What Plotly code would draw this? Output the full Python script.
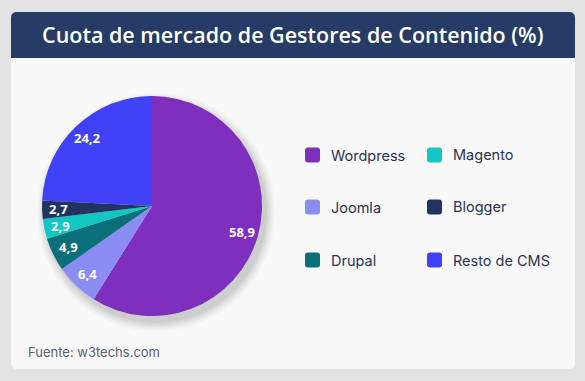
import math
import plotly.graph_objects as go

categories = ["Wordpress", "Joomla", "Drupal", "Magento", "Blogger", "Resto de CMS"]
values = [58.9, 6.4, 4.9, 2.9, 2.7, 24.2]
colors = ["#7E2FBE", "#8C8DF3", "#0B6F7A", "#12C6C3", "#213460", "#4141F7"]
title_text = "Cuota de mercado de Gestores de Contenido (%)"
source_text = "Fuente: w3techs.com"

W, H = 585, 381
labels_txt = [f"{v:.1f}".replace(".", ",") for v in values]

# pie geometry (pixels)
PCX, PCY, PR = 152, 206, 110

def px(x):
    return x / W

def py(y):
    return 1 - y / H

def rounded_path(x0, y0, x1, y1, rt, rb):
    # pixel coords (y down) -> paper path with rounded corners
    pts = []
    def P(x, y):
        return f"{px(x):.5f},{py(y):.5f}"
    p = f"M {P(x0 + rt, y0)} L {P(x1 - rt, y0)} Q {P(x1, y0)} {P(x1, y0 + rt)} "
    p += f"L {P(x1, y1 - rb)} Q {P(x1, y1)} {P(x1 - rb, y1)} "
    p += f"L {P(x0 + rb, y1)} Q {P(x0, y1)} {P(x0, y1 - rb)} "
    p += f"L {P(x0, y0 + rt)} Q {P(x0, y0)} {P(x0 + rt, y0)} Z"
    return p

fig = go.Figure()
fig.add_trace(go.Pie(
    labels=categories, values=values,
    textinfo="none",
    sort=False, direction="clockwise", rotation=0,
    marker=dict(colors=colors, line=dict(width=0)),
    domain=dict(x=[px(PCX - PR), px(PCX + PR)], y=[py(PCY + PR), py(PCY - PR)]),
    showlegend=False, hoverinfo="label+value",
))

shapes = []
# card
shapes.append(dict(type="path", xref="paper", yref="paper", path=rounded_path(11, 12, 575, 369, 6, 6),
                   fillcolor="#F8F8F9", line=dict(width=0), layer="below"))
# title bar
shapes.append(dict(type="path", xref="paper", yref="paper", path=rounded_path(11, 12, 575, 58, 6, 0),
                   fillcolor="#263B66", line=dict(width=0), layer="below"))
# soft pie shadow
for d, op in [(9, 0.025), (7, 0.03), (5, 0.035), (3, 0.04), (1, 0.05)]:
    cx, cy, r = PCX + 4, PCY + 6, PR + d
    shapes.append(dict(type="circle", xref="paper", yref="paper",
                       x0=px(cx - r), x1=px(cx + r), y0=py(cy + r), y1=py(cy - r),
                       fillcolor=f"rgba(0,0,0,{op})", line=dict(width=0), layer="below"))

annotations = [
    dict(text=title_text, x=0.5, y=py(35), xref="paper", yref="paper", showarrow=False,
         font=dict(family="Open Sans", size=21.5, color="white", weight=600), xanchor="center", yanchor="middle"),
    dict(text=source_text, x=px(26), y=py(352), xref="paper", yref="paper", showarrow=False,
         font=dict(family="Inter", size=13, color="#5A6272"), xanchor="left", yanchor="middle"),
]

# slice value labels placed along each slice's mid-angle
total = sum(values)
cum = 0.0
for v, t in zip(values, labels_txt):
    mid = (cum + v / 2) / total * 2 * math.pi
    cum += v
    rho = 0.85 * PR
    lx = PCX + rho * math.sin(mid)
    ly = PCY - rho * math.cos(mid)
    annotations.append(dict(text=t, x=px(lx), y=py(ly), xref="paper", yref="paper", showarrow=False,
                            font=dict(family="Open Sans", size=13, color="white", weight=700),
                            xanchor="center", yanchor="middle"))

# legend: 2 columns x 3 rows, column-major
col_x = [305, 427]
row_y = [155, 207, 260]
for i, (cat, col) in enumerate(zip(categories, colors)):
    c, r = divmod(i, 3)
    x0, yc = col_x[c], row_y[r]
    s = 15
    shapes.append(dict(type="path", xref="paper", yref="paper",
                       path=rounded_path(x0, yc - s / 2, x0 + s, yc + s / 2, 3, 3),
                       fillcolor=col, line=dict(width=0)))
    annotations.append(dict(text=cat, x=px(x0 + 24), y=py(yc), xref="paper", yref="paper", showarrow=False,
                            font=dict(family="Inter", size=14.5, color="#2A3352"), xanchor="left", yanchor="middle"))

fig.update_layout(
    width=W, height=H, margin=dict(l=0, r=0, t=0, b=0),
    paper_bgcolor="#E3E3E3", plot_bgcolor="#E3E3E3",
    shapes=shapes, annotations=annotations,
)
fig.write_html("out.html")
